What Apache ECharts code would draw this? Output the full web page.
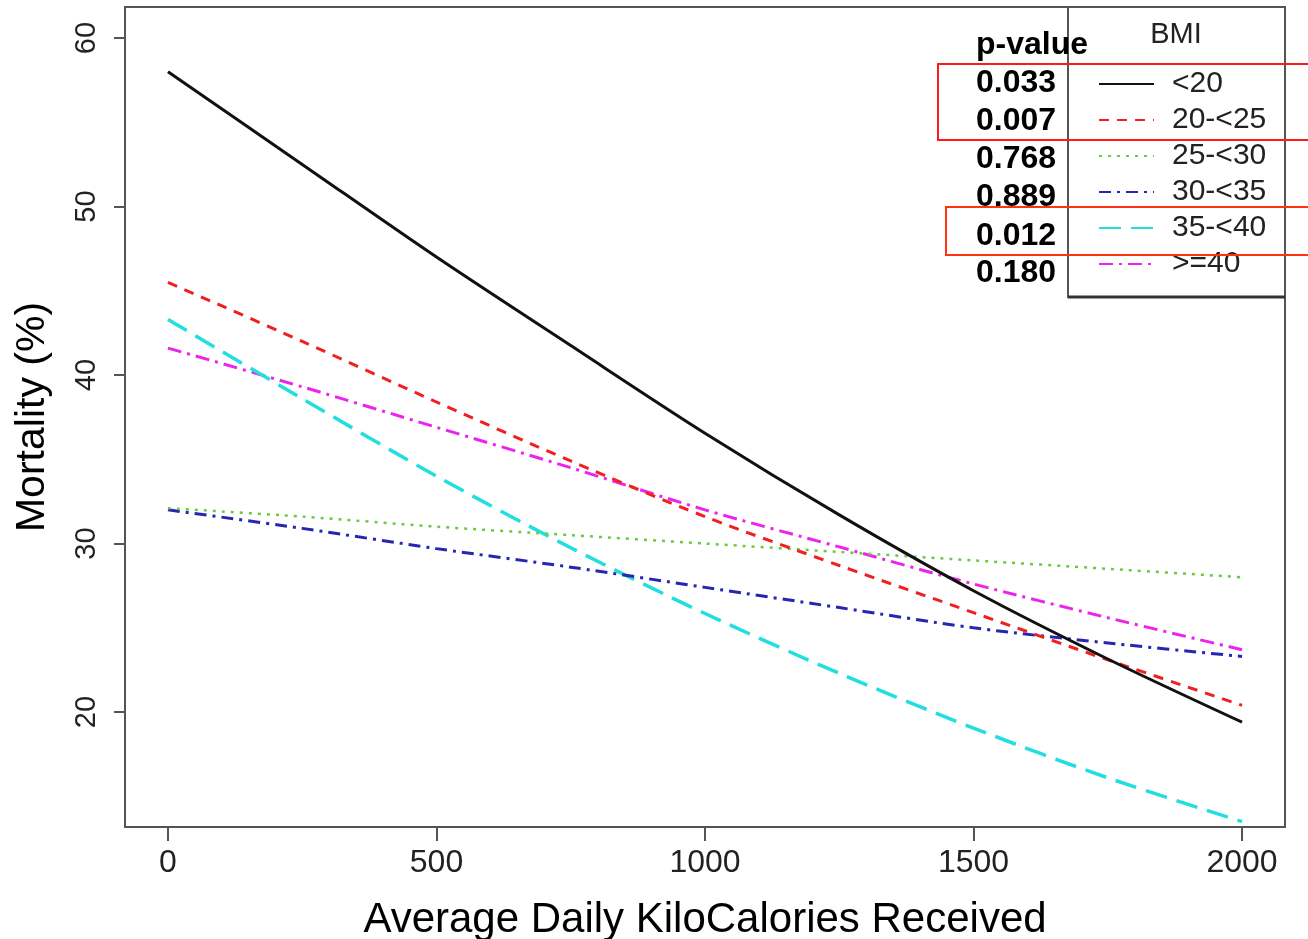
<!DOCTYPE html>
<html>
<head>
<meta charset="utf-8">
<script src="https://cdn.jsdelivr.net/npm/echarts@6/dist/echarts.min.js"></script>
<style>
html,body{margin:0;padding:0;background:#fff;}
#chart{width:1308px;height:939px;}
</style>
</head>
<body>
<div id="chart"></div>
<script>
// ---- data ----
const kcal = [0, 250, 500, 750, 1000, 1250, 1500, 1750, 2000];
const bmiLt20   = [58.0, 52.5, 47.0, 41.75, 36.55, 31.7, 27.2, 23.15, 19.4];
const bmi20_25  = [45.5, 42.0, 38.4, 34.9, 31.6, 28.7, 25.9, 23.1, 20.4];
const bmi25_30  = [32.1, 31.6, 31.0, 30.5, 30.0, 29.5, 29.0, 28.5, 28.0];
const bmi30_35  = [32.0, 30.9, 29.7, 28.6, 27.4, 26.2, 25.0, 24.1, 23.3];
const bmi35_40  = [43.3, 38.6, 34.0, 29.75, 25.85, 22.3, 19.05, 16.1, 13.5];
const bmiGe40   = [41.6, 39.3, 36.9, 34.5, 32.0, 29.8, 27.6, 25.6, 23.7];
const groupNames = ['<20', '20-<25', '25-<30', '30-<35', '35-<40', '>=40'];
const pValues = ['0.033', '0.007', '0.768', '0.889', '0.012', '0.180'];
const xTicks = [0, 500, 1000, 1500, 2000];
const yTicks = [20, 30, 40, 50, 60];

const FONT = '"Liberation Sans", Arial, sans-serif';
const allSeries = [bmiLt20, bmi20_25, bmi25_30, bmi30_35, bmi35_40, bmiGe40];
const styles = [
  {color: '#111111', width: 3, type: 'solid'},
  {color: '#f02020', width: 3, type: [10, 8]},
  {color: '#66cc44', width: 2.5, type: [3, 6]},
  {color: '#2626b0', width: 3, type: [12, 6, 3, 6]},
  {color: '#22dede', width: 3.5, type: [22, 10]},
  {color: '#ee22ee', width: 3, type: [14, 6, 3, 6]}
];

const series = allSeries.map((vals, i) => ({
  name: groupNames[i],
  type: 'line',
  symbol: 'none',
  smooth: 0.3,
  data: kcal.map((k, j) => [k, vals[j]]),
  itemStyle: {color: styles[i].color},
  lineStyle: {color: styles[i].color, width: styles[i].width, type: styles[i].type},
  z: 10 - i
}));

const pRowsY = [83, 121, 159, 197, 236, 273];
const graphics = [
  {type: 'rect', shape: {x: 1068, y: 7, width: 217, height: 290},
   style: {fill: 'none', stroke: '#555', lineWidth: 2}, z: 50},
  {type: 'line', shape: {x1: 1068, y1: 297, x2: 1285, y2: 297},
   style: {stroke: '#333', lineWidth: 3}, z: 50},
  {type: 'text', x: 1176, y: 35,
   style: {text: 'BMI', font: '29px ' + FONT, fill: '#222', align: 'center', verticalAlign: 'middle'}, z: 50},
  {type: 'text', x: 976, y: 45,
   style: {text: 'p-value', font: 'bold 32px ' + FONT, fill: '#000', align: 'left', verticalAlign: 'middle'}, z: 50}
];
pValues.forEach((p, i) => {
  graphics.push({type: 'text', x: 976, y: pRowsY[i],
    style: {text: p, font: 'bold 32px ' + FONT, fill: '#000', align: 'left', verticalAlign: 'middle'}, z: 50});
});
graphics.push({type: 'rect', shape: {x: 938, y: 64, width: 400, height: 76},
  style: {fill: 'none', stroke: '#ff1a1a', lineWidth: 2}, z: 60});
graphics.push({type: 'rect', shape: {x: 946, y: 207, width: 400, height: 48},
  style: {fill: 'none', stroke: '#ff3311', lineWidth: 2}, z: 60});

const chart = echarts.init(document.getElementById('chart'), null, {renderer: 'canvas'});
chart.setOption({
  animation: false,
  backgroundColor: '#fff',
  grid: {left: 125, top: 7, width: 1160, height: 820, show: true, outerBoundsMode: 'none',
         containLabel: false,
         borderColor: '#555', borderWidth: 2, backgroundColor: 'transparent'},
  xAxis: {
    type: 'value', min: -80, max: 2080,
    name: 'Average Daily KiloCalories Received',
    nameLocation: 'middle', nameGap: 72,
    nameTextStyle: {fontFamily: FONT, fontSize: 42, color: '#000'},
    axisLine: {show: false, onZero: false},
    axisTick: {show: true, inside: false, length: 14, customValues: xTicks,
               lineStyle: {color: '#555', width: 2}},
    axisLabel: {customValues: xTicks, margin: 20, fontFamily: FONT, fontSize: 32, color: '#222',
                formatter: v => String(v)},
    splitLine: {show: false}
  },
  yAxis: {
    type: 'value', min: 13.18, max: 61.84,
    name: 'Mortality (%)',
    nameLocation: 'middle', nameGap: 72, nameRotate: 90,
    nameTextStyle: {fontFamily: FONT, fontSize: 41, color: '#000'},
    axisLine: {show: false, onZero: false},
    axisTick: {show: true, inside: false, length: 11, customValues: yTicks,
               lineStyle: {color: '#555', width: 2}},
    axisLabel: {customValues: yTicks, rotate: 90, margin: 24, fontFamily: FONT, fontSize: 29, color: '#222'},
    splitLine: {show: false}
  },
  legend: {
    orient: 'vertical', left: 1093, top: 64,
    itemWidth: 55, itemHeight: 14, itemGap: 6,
    data: groupNames,
    itemStyle: {opacity: 0},
    textStyle: {fontFamily: FONT, fontSize: 30, color: '#222', lineHeight: 30, padding: [0, 0, 0, 13]},
    selectedMode: false
  },
  graphic: graphics,
  series: series
});
</script>
</body>
</html>
